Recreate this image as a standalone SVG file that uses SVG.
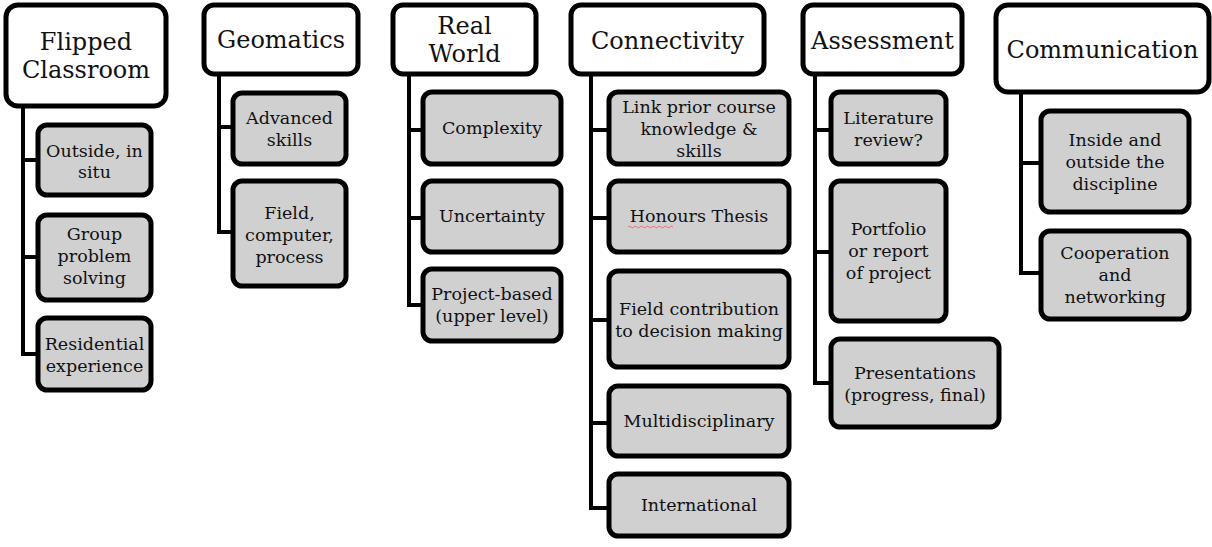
<svg xmlns="http://www.w3.org/2000/svg" width="1212" height="547" viewBox="0 0 1212 547">
<style>
.hdr{fill:#ffffff;stroke:#000;stroke-width:5}
.sub{fill:#d0d0d0;stroke:#000;stroke-width:5}
.ht{font-family:"DejaVu Serif","Liberation Serif",serif;font-size:24px;fill:#111;text-anchor:middle}
.st{font-family:"DejaVu Serif","Liberation Serif",serif;font-size:17.5px;fill:#111;text-anchor:middle}
.cn{fill:none;stroke:#000;stroke-width:4;stroke-linejoin:miter}
</style>
<g id="connectors">
<path class="cn" d="M23,106 V354 H38 M23,160 H38 M23,257 H38"/>
<path class="cn" d="M219,74 V232 H233 M219,127 H233"/>
<path class="cn" d="M409,74 V305 H423 M409,130 H423 M409,218 H423"/>
<path class="cn" d="M591,74 V508 H609 M591,130 H609 M591,218 H609 M591,320 H609 M591,423 H609"/>
<path class="cn" d="M815,74 V383 H831 M815,130 H831 M815,252 H831"/>
<path class="cn" d="M1021,92 V273 H1041 M1021,163 H1041"/>
</g>
<g id="flipped">
<rect class="hdr" x="6" y="5" width="160" height="101" rx="12"/>
<text class="ht" x="86" y="50">Flipped</text>
<text class="ht" x="86" y="78">Classroom</text>
</g>
<g id="outside">
<rect class="sub" x="38" y="125" width="113" height="70" rx="9"/>
<text class="st" x="94.5" y="157">Outside, in</text>
<text class="st" x="94.5" y="178">situ</text>
</g>
<g id="group">
<rect class="sub" x="38" y="215" width="113" height="85" rx="9"/>
<text class="st" x="94.5" y="240">Group</text>
<text class="st" x="94.5" y="262">problem</text>
<text class="st" x="94.5" y="284">solving</text>
</g>
<g id="residential">
<rect class="sub" x="38" y="318" width="113" height="72" rx="9"/>
<text class="st" x="94.5" y="350">Residential</text>
<text class="st" x="94.5" y="372">experience</text>
</g>
<g id="geomatics">
<rect class="hdr" x="204" y="5" width="154" height="69" rx="10"/>
<text class="ht" x="281" y="48">Geomatics</text>
</g>
<g id="advanced">
<rect class="sub" x="233" y="93" width="113" height="71" rx="9"/>
<text class="st" x="289.5" y="124">Advanced</text>
<text class="st" x="289.5" y="146">skills</text>
</g>
<g id="fieldcomp">
<rect class="sub" x="233" y="181" width="113" height="105" rx="9"/>
<text class="st" x="289.5" y="219">Field,</text>
<text class="st" x="289.5" y="241">computer,</text>
<text class="st" x="289.5" y="263">process</text>
</g>
<g id="realworld">
<rect class="hdr" x="393" y="5" width="143" height="69" rx="10"/>
<text class="ht" x="464.5" y="34">Real</text>
<text class="ht" x="464.5" y="62">World</text>
</g>
<g id="complexity">
<rect class="sub" x="423" y="92" width="138" height="72" rx="9"/>
<text class="st" x="492" y="134">Complexity</text>
</g>
<g id="uncertainty">
<rect class="sub" x="423" y="181" width="138" height="71" rx="9"/>
<text class="st" x="492" y="222">Uncertainty</text>
</g>
<g id="project">
<rect class="sub" x="423" y="269" width="138" height="72" rx="9"/>
<text class="st" x="492" y="300">Project-based</text>
<text class="st" x="492" y="322">(upper level)</text>
</g>
<g id="connectivity">
<rect class="hdr" x="571" y="5" width="193" height="69" rx="10"/>
<text class="ht" x="667.5" y="49">Connectivity</text>
</g>
<g id="link">
<rect class="sub" x="609" y="92" width="180" height="72" rx="9"/>
<text class="st" x="699" y="113">Link prior course</text>
<text class="st" x="699" y="135">knowledge &amp;</text>
<text class="st" x="699" y="157">skills</text>
</g>
<g id="honours">
<rect class="sub" x="609" y="181" width="180" height="71" rx="9"/>
<text class="st" x="699" y="222">Honours Thesis</text>
<path d="M628,227 q1.5,-1.5 3,0 t3,0 t3,0 t3,0 t3,0 t3,0 t3,0 t3,0 t3,0 t3,0 t3,0 t3,0 t3,0 t3,0 t3,0" fill="none" stroke="#e06060" stroke-width="0.8"/>
</g>
<g id="fieldcontrib">
<rect class="sub" x="609" y="271" width="180" height="96" rx="9"/>
<text class="st" x="699" y="315">Field contribution</text>
<text class="st" x="699" y="337">to decision making</text>
</g>
<g id="multi">
<rect class="sub" x="609" y="386" width="180" height="70" rx="9"/>
<text class="st" x="699" y="427">Multidisciplinary</text>
</g>
<g id="international">
<rect class="sub" x="609" y="474" width="180" height="62" rx="9"/>
<text class="st" x="699" y="511">International</text>
</g>
<g id="assessment">
<rect class="hdr" x="803" y="5" width="159" height="69" rx="10"/>
<text class="ht" x="882.5" y="49">Assessment</text>
</g>
<g id="literature">
<rect class="sub" x="831" y="92" width="115" height="72" rx="9"/>
<text class="st" x="888.5" y="124">Literature</text>
<text class="st" x="888.5" y="146">review?</text>
</g>
<g id="portfolio">
<rect class="sub" x="831" y="181" width="115" height="140" rx="9"/>
<text class="st" x="888.5" y="235">Portfolio</text>
<text class="st" x="888.5" y="257">or report</text>
<text class="st" x="888.5" y="279">of project</text>
</g>
<g id="presentations">
<rect class="sub" x="831" y="339" width="168" height="88" rx="9"/>
<text class="st" x="915" y="379">Presentations</text>
<text class="st" x="915" y="401">(progress, final)</text>
</g>
<g id="communication">
<rect class="hdr" x="996" y="5" width="213" height="87" rx="12"/>
<text class="ht" x="1102.5" y="58">Communication</text>
</g>
<g id="inside">
<rect class="sub" x="1041" y="111" width="148" height="101" rx="9"/>
<text class="st" x="1115" y="146">Inside and</text>
<text class="st" x="1115" y="168">outside the</text>
<text class="st" x="1115" y="190">discipline</text>
</g>
<g id="cooperation">
<rect class="sub" x="1041" y="231" width="148" height="88" rx="9"/>
<text class="st" x="1115" y="259">Cooperation</text>
<text class="st" x="1115" y="281">and</text>
<text class="st" x="1115" y="303">networking</text>
</g>
</svg>
